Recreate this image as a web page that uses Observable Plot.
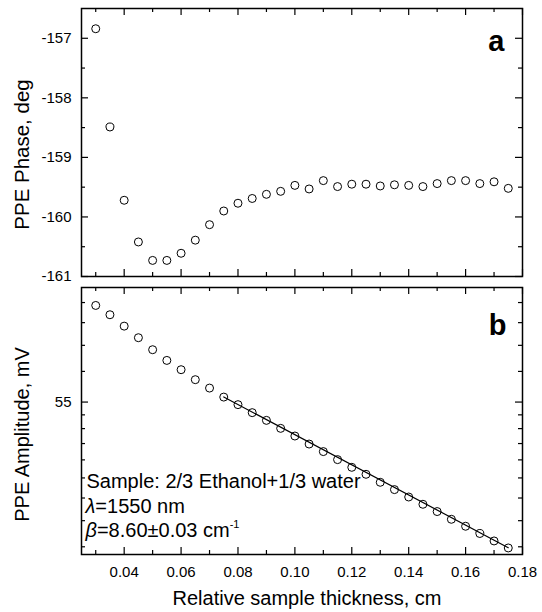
<!DOCTYPE html>
<html><head><meta charset="utf-8">
<script src="https://cdn.jsdelivr.net/npm/d3@7"></script>
<script src="https://cdn.jsdelivr.net/npm/@observablehq/plot@0.6"></script>
<style>
html,body{margin:0;padding:0;background:#fff;}
#chart svg{display:block;}
</style></head><body><div id="chart"></div>
<script>
// ---- data ----
const thickness = [0.030,0.035,0.040,0.045,0.050,0.055,0.060,0.065,0.070,0.075,0.080,0.085,0.090,0.095,0.100,0.105,0.110,0.115,0.120,0.125,0.130,0.135,0.140,0.145,0.150,0.155,0.160,0.165,0.170,0.175];
const phase = [-156.84,-158.49,-159.72,-160.42,-160.73,-160.73,-160.61,-160.39,-160.13,-159.90,-159.77,-159.69,-159.62,-159.57,-159.47,-159.53,-159.39,-159.49,-159.45,-159.45,-159.48,-159.46,-159.47,-159.49,-159.44,-159.39,-159.39,-159.44,-159.41,-159.52];
const amplitude = [94.70,89.81,84.17,78.79,73.58,69.23,65.66,62.03,59.13,56.17,53.80,51.40,49.19,47.00,44.99,42.98,41.17,39.33,37.64,36.17,34.56,33.15,31.78,30.49,29.25,27.99,26.90,25.81,24.74,23.77];
const fitThickness = [0.075, 0.175];
const fitAmplitude = [56.2, 23.8];

const xMajorTicks = [0.04,0.06,0.08,0.10,0.12,0.14,0.16,0.18];
const xMinorTicks = [0.03,0.05,0.07,0.09,0.11,0.13,0.15,0.17];
const xTickLabels = ["0.04","0.06","0.08","0.10","0.12","0.14","0.16","0.18"];
const phaseMajorTicks = [-161,-160,-159,-158,-157];
const phaseMinorTicks = [-160.5,-159.5,-158.5,-157.5];
const phaseTickLabels = ["-161","-160","-159","-158","-157"];
const ampMajorTicks = [54.598];
const ampTickLabels = ["55"];
const ampMinorTicks = [23.93,27.77,31.60,35.43,39.27,43.10,46.93,50.76,65.02,75.44,85.86,96.28];

const panelLabels = ["a","b"];
const noteLines = ["Sample: 2/3 Ethanol+1/3 water","λ=1550 nm","β=8.60±0.03 cm-1"];
const xTitle = "Relative sample thickness, cm";
const yTitles = ["PPE Phase, deg","PPE Amplitude, mV"];

// ---- layout ----
const W = 542, ML = 81, MR = 20;
const FW = W - ML - MR;
const H1 = 281, MT1 = 8, MB1 = 5, FH1 = H1 - MT1 - MB1;
const H2 = 331, MT2 = 6, MB2 = 58, FH2 = H2 - MT2 - MB2;
const MAJ = 7, MIN = 4;
const font = "'Liberation Sans', Arial, Helvetica, sans-serif";

const rows = thickness.map((t, i) => ({t, phase: phase[i], amp: amplitude[i]}));
const fitRows = fitThickness.map((t, i) => ({t, amp: fitAmplitude[i]}));

function xTickMarks(FH) {
  const o = {x: d => d, stroke: "black", strokeWidth: 1.2};
  return [
    Plot.ruleX(xMajorTicks, {...o, insetTop: FH - MAJ}),
    Plot.ruleX(xMajorTicks, {...o, insetBottom: FH - MAJ}),
    Plot.ruleX(xMinorTicks, {...o, insetTop: FH - MIN}),
    Plot.ruleX(xMinorTicks, {...o, insetBottom: FH - MIN})
  ];
}
function yTickMarks(major, minor) {
  const o = {y: d => d, stroke: "black", strokeWidth: 1.2};
  return [
    Plot.ruleY(major, {...o, insetRight: FW - MAJ}),
    Plot.ruleY(major, {...o, insetLeft: FW - MAJ}),
    Plot.ruleY(minor, {...o, insetRight: FW - MIN}),
    Plot.ruleY(minor, {...o, insetLeft: FW - MIN})
  ];
}
const baseStyle = {fontFamily: font, fontSize: "15px", color: "black", background: "white", overflow: "visible"};

const plotA = Plot.plot({
  width: W, height: H1,
  marginLeft: ML, marginRight: MR, marginTop: MT1, marginBottom: MB1,
  style: baseStyle,
  x: {domain: [0.025, 0.18], axis: null, label: null},
  y: {domain: [-161, -156.5], label: null},
  marks: [
    ...xTickMarks(FH1),
    ...yTickMarks(phaseMajorTicks, phaseMinorTicks),
    Plot.axisY({ticks: phaseMajorTicks, tickSize: 0, tickPadding: 10, fontSize: 15, label: null,
      tickFormat: d => phaseTickLabels[phaseMajorTicks.indexOf(d)]}),
    Plot.frame({stroke: "black", strokeWidth: 1.5}),
    Plot.dot(rows, {x: "t", y: "phase", r: 4, stroke: "black", fill: "none", strokeWidth: 1}),
    Plot.text([panelLabels[0]], {text: d => d, frameAnchor: "top-right", dx: -18, dy: 42.7, lineAnchor: "bottom", textAnchor: "end", fontSize: 29, fontWeight: "bold"}),
    Plot.text([yTitles[0]], {text: d => d, frameAnchor: "left", dx: -53, dy: 12, rotate: -90, lineAnchor: "bottom", textAnchor: "middle", fontSize: 20.5})
  ]
});

const plotB = Plot.plot({
  width: W, height: H2,
  marginLeft: ML, marginRight: MR, marginTop: MT2, marginBottom: MB2,
  style: baseStyle,
  x: {domain: [0.025, 0.18], label: null},
  y: {type: "log", domain: [22.9, 104.9], label: null},
  marks: [
    ...xTickMarks(FH2),
    ...yTickMarks(ampMajorTicks, ampMinorTicks),
    Plot.axisX({ticks: xMajorTicks, tickSize: 0, tickPadding: 12, fontSize: 15, label: null,
      tickFormat: d => xTickLabels[xMajorTicks.indexOf(d)]}),
    Plot.axisY({ticks: ampMajorTicks, tickSize: 0, tickPadding: 10, fontSize: 15, label: null,
      tickFormat: d => ampTickLabels[ampMajorTicks.indexOf(d)]}),
    Plot.frame({stroke: "black", strokeWidth: 1.5}),
    Plot.line(fitRows, {x: "t", y: "amp", stroke: "black", strokeWidth: 1.2}),
    Plot.dot(rows, {x: "t", y: "amp", r: 4, stroke: "black", fill: "none", strokeWidth: 1}),
    Plot.text([panelLabels[1]], {text: d => d, frameAnchor: "top-right", dx: -16, dy: 47.3, lineAnchor: "bottom", textAnchor: "end", fontSize: 29, fontWeight: "bold"}),
    Plot.text([noteLines[0]], {text: d => d, frameAnchor: "top-left", dx: 5, dy: 200, lineAnchor: "bottom", textAnchor: "start", fontSize: 20}),
    Plot.text([noteLines[1]], {text: d => d, frameAnchor: "top-left", dx: 4, dy: 225.7, lineAnchor: "bottom", textAnchor: "start", fontSize: 20}),
    Plot.text([noteLines[2]], {text: d => d, frameAnchor: "top-left", dx: 4, dy: 249.7, lineAnchor: "bottom", textAnchor: "start", fontSize: 20}),
    Plot.text([yTitles[1]], {text: d => d, frameAnchor: "left", dx: -53, dy: 13.5, rotate: -90, lineAnchor: "bottom", textAnchor: "middle", fontSize: 20})
    ,
    Plot.text([xTitle], {text: d => d, frameAnchor: "bottom", dx: 5, dy: 50, lineAnchor: "bottom", textAnchor: "middle", fontSize: 20})
  ]
});

// italic Greek letters and superscript exponent
const NS = "http://www.w3.org/2000/svg";
function tspan(str, attrs = {}) {
  const t = document.createElementNS(NS, "tspan");
  for (const k in attrs) t.setAttribute(k, attrs[k]);
  t.textContent = str;
  return t;
}
plotB.querySelectorAll("text").forEach(el => {
  const s = el.textContent;
  if (s === noteLines[1] || s === noteLines[2]) {
    el.textContent = "";
    el.appendChild(tspan(s[0], {"font-style": "italic"}));
    let rest = s.slice(1);
    if (rest.endsWith("-1")) {
      el.appendChild(tspan(rest.slice(0, -2)));
      el.appendChild(tspan("-1", {"font-size": "11", dy: "-9"}));
    } else {
      el.appendChild(tspan(rest));
    }
  }
});

const chart = document.getElementById("chart");
chart.appendChild(plotA);
chart.appendChild(plotB);
</script></body></html>
